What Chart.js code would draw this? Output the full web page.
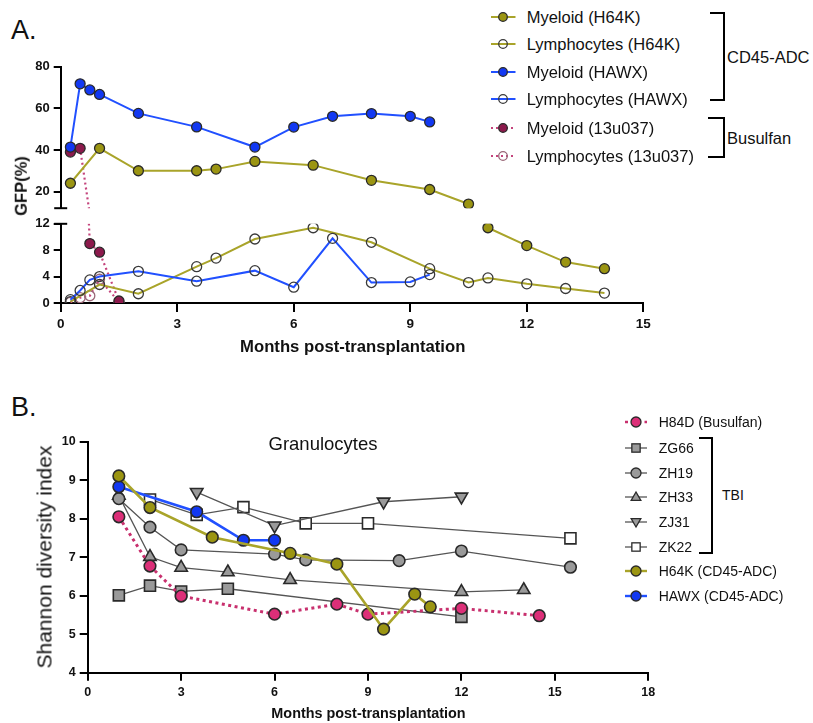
<!DOCTYPE html>
<html><head><meta charset="utf-8">
<script src="https://cdn.jsdelivr.net/npm/chart.js@4.4.0/dist/chart.umd.min.js"></script>
<style>
html,body{margin:0;padding:0;background:#fff;}
body{width:813px;height:723px;position:relative;overflow:hidden;font-family:"Liberation Sans",Arial,sans-serif;color:#111;}
canvas{position:absolute;}
.t{position:absolute;white-space:nowrap;line-height:1;}
.br{position:absolute;box-sizing:border-box;border:2.5px solid #000;border-left:none;}
</style></head><body>

<canvas id="cA1" width="665" height="165" style="left:0;top:55px"></canvas>
<canvas id="cA2" width="665" height="128" style="left:0;top:211.7px"></canvas>
<canvas id="cB" width="665" height="290" style="left:0;top:425px"></canvas>

<div class="t" style="left:11px;top:30px;transform:translateY(-50%);font-size:27px;">A.</div>
<div class="t" style="left:11px;top:407px;transform:translateY(-50%);font-size:27px;">B.</div>
<div class="t" style="left:21px;top:186px;transform:translate(-50%,-50%) rotate(-90deg);font-size:16.5px;font-weight:bold;">GFP(%)</div>
<div class="t" style="left:352.7px;top:346.7px;transform:translate(-50%,-50%);font-size:16.7px;font-weight:bold;">Months post-transplantation</div>
<div class="t" style="left:44px;top:557px;transform:translate(-50%,-50%) rotate(-90deg);font-size:21px;">Shannon diversity index</div>
<div class="t" style="left:323px;top:444px;transform:translate(-50%,-50%);font-size:18.5px;">Granulocytes</div>
<div class="t" style="left:368.5px;top:713.3px;transform:translate(-50%,-50%);font-size:14.4px;font-weight:bold;">Months post-transplantation</div>

<div class="br" style="left:710px;top:12px;width:14.5px;height:89px;"></div>
<div class="t" style="left:727px;top:57px;transform:translateY(-50%);font-size:16.5px;">CD45-ADC</div>
<div class="br" style="left:708px;top:117px;width:16.5px;height:40.5px;"></div>
<div class="t" style="left:727px;top:137.5px;transform:translateY(-50%);font-size:16.5px;">Busulfan</div>
<div class="br" style="left:699px;top:437px;width:13.5px;height:117px;"></div>
<div class="t" style="left:722px;top:495px;transform:translateY(-50%);font-size:14px;">TBI</div>

<script>
// ---------------- Panel A data (GFP %) ----------------
const monthsH64K_A = [0.25, 1, 2, 3.5, 4, 5, 6.5, 8, 9.5, 10.5, 11, 12, 13, 14];
const myeloidH64K  = [24, 40.8, 30, 30, 30.8, 34.5, 32.7, 25.4, 21, 14, 11.4, 8.7, 6.2, 5.2];
const lymphH64K    = [0.2, 2.8, 1.4, 5.5, 6.8, 9.7, 11.4, 9.2, 5.2, 3.1, 3.8, 2.9, 2.2, 1.5];
const monthsHAWX_A = [0.25, 0.5, 0.75, 1, 2, 3.5, 5, 6, 7, 8, 9, 9.5];
const myeloidHAWX  = [41.4, 71.8, 68.9, 66.7, 57.6, 51.1, 41.4, 51, 56.2, 57.5, 56.2, 53.5];
const lymphHAWX    = [0.5, 1.9, 3.5, 4.0, 4.8, 3.3, 4.9, 2.4, 9.8, 3.1, 3.2, 4.3];
const months13u037 = [0.25, 0.5, 0.75, 1, 1.5];
const myeloid13u037 = [39, 40.8, 9.0, 7.7, 0.3];
const lymph13u037   = [0.1, 0.8, 1.1, 3.6, 0.15];
const yTicksUpperA = [20, 40, 60, 80];
const yTicksLowerA = [0, 2, 4, 6, 8, 10, 12];
const xTicksA = [0, 3, 6, 9, 12, 15];
const breakA = 12;
const legendLabelsA = ['Myeloid (H64K)', 'Lymphocytes (H64K)', 'Myeloid (HAWX)', 'Lymphocytes (HAWX)', 'Myeloid (13u037)', 'Lymphocytes (13u037)'];

// ---------------- Panel B data (Shannon diversity) ----------------
const monthsH84D = [1, 2, 3, 6, 8, 9, 12, 14.5];
const sdiH84D    = [8.05, 6.77, 5.99, 5.52, 5.78, 5.52, 5.67, 5.48];
const monthsZG66 = [1, 2, 3, 4.5, 12];
const sdiZG66    = [6.01, 6.26, 6.11, 6.18, 5.45];
const monthsZH19 = [1, 2, 3, 6, 7, 10, 12, 15.5];
const sdiZH19    = [8.52, 7.78, 7.19, 7.08, 6.93, 6.91, 7.16, 6.74];
const monthsZH33 = [1, 2, 3, 4.5, 6.5, 12, 14];
const sdiZH33    = [8.6, 7.01, 6.73, 6.61, 6.41, 6.10, 6.15];
const monthsZJ31 = [3.5, 6, 9.5, 12];
const sdiZJ31    = [8.69, 7.82, 8.44, 8.57];
const monthsZK22 = [2, 3.5, 5, 7, 9, 15.5];
const sdiZK22    = [8.50, 8.10, 8.30, 7.88, 7.88, 7.49];
const monthsH64K_B = [1, 2, 4, 6.5, 8, 9.5, 10.5, 11];
const sdiH64K      = [9.11, 8.29, 7.52, 7.10, 6.82, 5.13, 6.04, 5.71];
const monthsHAWX_B = [1, 3.5, 5, 6];
const sdiHAWX      = [8.83, 8.18, 7.44, 7.44];
const yTicksB = [4, 5, 6, 7, 8, 9, 10];
const xTicksB = [0, 3, 6, 9, 12, 15, 18];
const legendLabelsB = ['H84D (Busulfan)', 'ZG66', 'ZH19', 'ZH33', 'ZJ31', 'ZK22', 'H64K (CD45-ADC)', 'HAWX (CD45-ADC)'];

// ---------------- styles ----------------
const FONT = '"Liberation Sans", Arial, sans-serif';
const C = {
  oliveLine:'#a9a42a', oliveFill:'#9b9512',
  blueLine:'#2150ff', blueFill:'#1238f2',
  maroonFill:'#8c1a4c', pinkDot:'#c4447c',
  h84dFill:'#dc2f78', h84dLine:'#c8306e',
  gray:'#9a9a9a', grayLine:'#555', edge:'#2a2a2a', open:'rgba(255,255,255,0)'
};
const pts = (xs, ys) => xs.map((x, i) => ({x, y: ys[i]}));

const stylesA = [
  {line:C.oliveLine, fill:C.oliveFill, edge:C.edge, dash:[], w:2, r:5},
  {line:C.oliveLine, fill:C.open, edge:'#3a3a3a', dash:[], w:2, r:5},
  {line:C.blueLine, fill:C.blueFill, edge:C.edge, dash:[], w:2, r:5},
  {line:C.blueLine, fill:C.open, edge:'#3a3a3a', dash:[], w:2, r:5},
  {line:C.pinkDot, fill:C.maroonFill, edge:C.edge, dash:[2,3], w:2.2, r:5, bridge:true},
  {line:C.pinkDot, fill:C.open, edge:'#9a6878', dash:[2,3], w:2.2, r:5}
];
const seriesA = [
  [monthsH64K_A, myeloidH64K], [monthsH64K_A, lymphH64K],
  [monthsHAWX_A, myeloidHAWX], [monthsHAWX_A, lymphHAWX],
  [months13u037, myeloid13u037], [months13u037, lymph13u037]
];
// drawing order: index 0 on top
const drawOrderA = [2, 3, 0, 1, 4, 5];

function partA(idx, upper) {
  const [xs, ys] = seriesA[idx];
  const st = stylesA[idx];
  const isUp = v => v >= breakA;
  const data = [], radii = [];
  for (let i = 0; i < xs.length; i++) {
    if (isUp(ys[i]) === upper) { data.push({x: xs[i], y: ys[i]}); radii.push(st.r); }
    else if (st.bridge && ((i > 0 && isUp(ys[i-1]) === upper) || (i < xs.length-1 && isUp(ys[i+1]) === upper))) {
      data.push({x: xs[i], y: ys[i]}); radii.push(0);
    }
  }
  return {
    label: legendLabelsA[idx], data, pointRadius: radii, pointHoverRadius: radii,
    borderColor: st.line, borderWidth: st.w, borderDash: st.dash,
    pointBackgroundColor: st.fill, pointBorderColor: st.edge, pointBorderWidth: 1.3,
    tension: 0, fill: false
  };
}

function yAxis(min, max, ticks, width, size, tl) {
  return {
    type:'linear', position:'left', min, max,
    afterFit: s => { s.width = width; },
    afterBuildTicks: s => { s.ticks = ticks.map(v => ({value: v})); },
    border:{display:true, color:'#000', width:2},
    grid:{drawOnChartArea:false, drawTicks:true, tickLength:tl, color:'#000', lineWidth:2},
    ticks:{color:'#111', font:{family:FONT, size:size, weight:'bold'}, padding:4}
  };
}
function xAxis(min, max, ticks, height, size, tl, show) {
  return {
    type:'linear', position:'bottom', min, max, display: show,
    afterFit: s => { s.height = height; },
    afterBuildTicks: s => { s.ticks = ticks.map(v => ({value: v})); },
    border:{display:true, color:'#000', width:2},
    grid:{drawOnChartArea:false, drawTicks:true, tickLength:tl, color:'#000', lineWidth:2},
    ticks:{color:'#111', font:{family:FONT, size:size, weight:'bold'}, padding:4, maxRotation:0}
  };
}
const capPlugin = {
  id:'cap',
  afterDraw(chart, args, opts) {
    if (!opts || !opts.edges) return;
    const ctx = chart.ctx, a = chart.chartArea;
    ctx.save(); ctx.strokeStyle = '#000'; ctx.lineWidth = 2;
    opts.edges.forEach(e => {
      const y = e === 'bottom' ? a.bottom : a.top;
      ctx.beginPath(); ctx.moveTo(a.left - 6.5, y); ctx.lineTo(a.left + 6.5, y); ctx.stroke();
    });
    ctx.restore();
  }
};
const baseOpts = {responsive:false, animation:false, devicePixelRatio:1, events:[],
  plugins:{legend:{display:false}, tooltip:{enabled:false}}};

// Upper segment (12 - 80)
new Chart(document.getElementById('cA1'), {
  type:'line',
  data:{datasets: drawOrderA.map(i => partA(i, true))},
  options: Object.assign({}, baseOpts, {
    layout:{padding:{top:11.7, bottom:10.5, left:0, right:21.7}},
    scales:{ x: xAxis(0, 15, xTicksA, 0, 13, 9, false), y: yAxis(12, 80, yTicksUpperA, 60.7, 13, 7) },
    plugins:{legend:{display:false}, tooltip:{enabled:false}, cap:{edges:['bottom']}}
  }),
  plugins:[capPlugin]
});
// Lower segment (0 - 12)
new Chart(document.getElementById('cA2'), {
  type:'line',
  data:{datasets: drawOrderA.map(i => partA(i, false))},
  options: Object.assign({}, baseOpts, {
    layout:{padding:{top:10, bottom:0, left:0, right:21.7}},
    scales:{ x: xAxis(0, 15, xTicksA, 37, 13.5, 9, true), y: yAxis(0, 12, yTicksLowerA, 60.7, 13, 7) },
    plugins:{legend:{display:false}, tooltip:{enabled:false}, cap:{edges:['top']}}
  }),
  plugins:[capPlugin]
});

// ---------------- Panel B ----------------
const stylesB = [
  {line:C.h84dLine, fill:C.h84dFill, dash:[3,3.5], w:3, shape:'circle', rot:0},
  {line:C.grayLine, fill:C.gray, dash:[], w:1.3, shape:'rect', rot:0},
  {line:C.grayLine, fill:C.gray, dash:[], w:1.3, shape:'circle', rot:0},
  {line:C.grayLine, fill:C.gray, dash:[], w:1.3, shape:'triangle', rot:0},
  {line:C.grayLine, fill:C.gray, dash:[], w:1.3, shape:'triangle', rot:180},
  {line:C.grayLine, fill:'#ffffff', dash:[], w:1.3, shape:'rect', rot:0},
  {line:C.oliveLine, fill:C.oliveFill, dash:[], w:2.6, shape:'circle', rot:0},
  {line:C.blueLine, fill:C.blueFill, dash:[], w:2.6, shape:'circle', rot:0}
];
const seriesB = [
  [monthsH84D, sdiH84D], [monthsZG66, sdiZG66], [monthsZH19, sdiZH19], [monthsZH33, sdiZH33],
  [monthsZJ31, sdiZJ31], [monthsZK22, sdiZK22], [monthsH64K_B, sdiH64K], [monthsHAWX_B, sdiHAWX]
];
const drawOrderB = [6, 7, 0, 2, 1, 3, 4, 5];
function dsB(i) {
  const st = stylesB[i];
  const r = st.shape === 'circle' ? 5.8 : (st.shape === 'rect' ? 7.8 : 7.2);
  return {
    label: legendLabelsB[i], data: pts(seriesB[i][0], seriesB[i][1]),
    borderColor: st.line, borderWidth: st.w, borderDash: st.dash,
    pointStyle: st.shape, pointRotation: st.rot, pointRadius: r, pointHoverRadius: r,
    pointBackgroundColor: st.fill, pointBorderColor: C.edge, pointBorderWidth: 1.6,
    tension: 0, fill: false
  };
}
new Chart(document.getElementById('cB'), {
  type:'line',
  data:{datasets: drawOrderB.map(dsB)},
  options: Object.assign({}, baseOpts, {
    layout:{padding:{top:16.7, bottom:0, left:0, right:16.7}},
    scales:{ x: xAxis(0, 18, xTicksB, 42.3, 12.5, 8, true), y: yAxis(4, 10, yTicksB, 87.7, 12.5, 8) }
  })
});

// ---------------- HTML legends ----------------
const NS = 'http://www.w3.org/2000/svg';
function marker(svg, shape, cx, cy, r, fill, edge, rot, sw) {
  let el;
  if (shape === 'circle') {
    el = document.createElementNS(NS, 'circle');
    el.setAttribute('cx', cx); el.setAttribute('cy', cy); el.setAttribute('r', r);
  } else if (shape === 'rect') {
    el = document.createElementNS(NS, 'rect');
    const s = r * 1.6;
    el.setAttribute('x', cx - s/2); el.setAttribute('y', cy - s/2); el.setAttribute('width', s); el.setAttribute('height', s);
  } else {
    el = document.createElementNS(NS, 'polygon');
    const h = r * 1.6, d = rot ? -1 : 1;
    const p = [[cx, cy - d*h*0.6], [cx - h*0.58, cy + d*h*0.4], [cx + h*0.58, cy + d*h*0.4]];
    el.setAttribute('points', p.map(q => q.join(',')).join(' '));
  }
  el.setAttribute('fill', fill); el.setAttribute('stroke', edge); el.setAttribute('stroke-width', sw);
  svg.appendChild(el);
}
function legendRow(y, x0, x1, mx, tx, fs, st, shape, r, rot, label) {
  const svg = document.createElementNS(NS, 'svg');
  const w = x1 - x0 + 8;
  svg.setAttribute('width', w); svg.setAttribute('height', 20);
  svg.style.position = 'absolute'; svg.style.left = (x0 - 4) + 'px'; svg.style.top = (y - 10) + 'px';
  const ln = document.createElementNS(NS, 'line');
  ln.setAttribute('x1', 4); ln.setAttribute('x2', w - 4); ln.setAttribute('y1', 10); ln.setAttribute('y2', 10);
  ln.setAttribute('stroke', st.line); ln.setAttribute('stroke-width', Math.min(st.w, 2.4));
  if (st.dash && st.dash.length) ln.setAttribute('stroke-dasharray', st.dash.join(' '));
  svg.appendChild(ln);
  marker(svg, shape, mx - x0 + 4, 10, r, st.fill, st.edge || C.edge, rot, 1.3);
  document.body.appendChild(svg);
  const t = document.createElement('div');
  t.className = 't'; t.textContent = label;
  t.style.left = tx + 'px'; t.style.top = y + 'px'; t.style.transform = 'translateY(-50%)'; t.style.fontSize = fs + 'px';
  document.body.appendChild(t);
}
const rowsA = [17, 44.3, 71.7, 99.3, 127.7, 156];
legendLabelsA.forEach((lab, i) => legendRow(rowsA[i], 490.5, 515, 502.5, 526.7, 16.5, stylesA[i], 'circle', 4.3, 0, lab));
const rowsB = [421.7, 447.7, 472.7, 497.3, 522.3, 547, 571, 595.7];
legendLabelsB.forEach((lab, i) => legendRow(rowsB[i], 625, 647, 636, 658.7, 14, stylesB[i], stylesB[i].shape,
  stylesB[i].shape === 'circle' ? 5 : 5.2, stylesB[i].rot, lab));
</script>
</body></html>
